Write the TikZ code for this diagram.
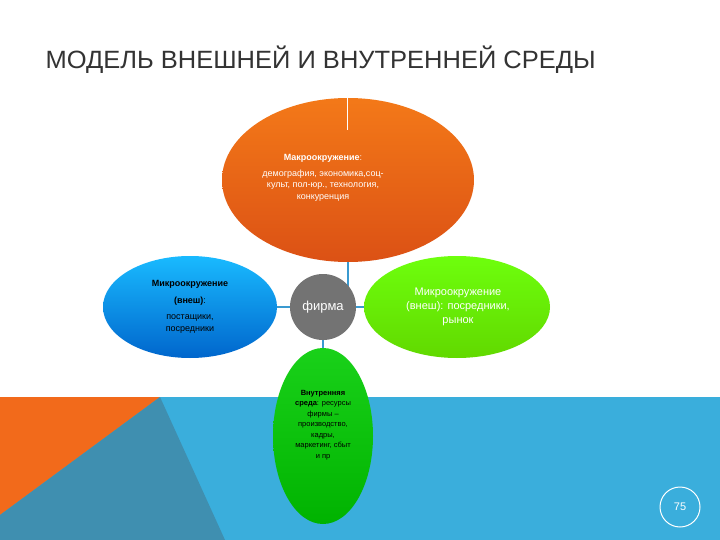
\documentclass[tikz,border=0pt]{standalone}
\usepackage{fontspec}
\setmainfont{Liberation Sans}
\usetikzlibrary{shapes.geometric}
\definecolor{bandblue}{HTML}{3AAEDC}
\definecolor{darkblue}{HTML}{3F8FB0}
\definecolor{orng}{HTML}{F26A1B}
\definecolor{conn}{HTML}{3A9AD0}
\begin{document}
\begin{tikzpicture}[x=1pt,y=-1pt,
  conline/.style={draw=conn,line width=2.5pt},
  txt/.style={font=\fontsize{9}{11.5}\selectfont,align=center}]
\useasboundingbox (0,0) rectangle (720,540);
\fill[white] (0,0) rectangle (720,540);
\fill[bandblue] (0,397) rectangle (720,540);
\fill[orng] (0,397) -- (160,397) -- (0,515) -- cycle;
\fill[darkblue] (0,515) -- (160,397) -- (225,540) -- (0,540) -- cycle;
\node[anchor=west,text=black!80,font=\fontsize{25}{28}\selectfont,xscale=1.02] (title) at (42,60) {МОДЕЛЬ ВНЕШНЕЙ И ВНУТРЕННЕЙ СРЕДЫ};
\coordinate (f) at (323,307);
\coordinate (tc) at (348,180);
\coordinate (lc) at (190,307);
\coordinate (rc) at (457,307);
\coordinate (bc) at (323,436);
\draw[conline] (tc) -- (tc|-f) -- (f);
\draw[conline] (lc) -- (rc);
\draw[conline] (f) -- (bc);
\node[ellipse,minimum width=252pt,minimum height=164pt,top color=orng!90!yellow,bottom color=orng!85!red!90!black,inner sep=0] (top) at (tc) {};
\draw[white,line width=1pt] (347,95) -- (347,130);
\node[txt,text=white] (toptext) at (323,178) {\textbf{Макроокружение}:\\[4pt]демография, экономика,соц-\\культ, пол-юр., технология,\\конкуренция};
\node[ellipse,minimum width=174pt,minimum height=102pt,top color=cyan!70!blue!90,bottom color=cyan!50!blue!80!black,inner sep=0] (left) at (lc) {};
\node[txt,text=black] (lefttext) at (190,307) {\textbf{Микроокружение}\\[5pt]\textbf{(внеш)}:\\[5pt]постащики,\\посредники};
\node[ellipse,minimum width=186pt,minimum height=102pt,top color=green!60!yellow!95!white,bottom color=green!55!yellow!85!black,inner sep=0] (right) at (rc) {};
\node[txt,text=white,font=\fontsize{11}{14}\selectfont] (righttext) at (458,307) {Микроокружение\\(внеш): посредники,\\рынок};
\node[circle,minimum size=66pt,fill=black!55,inner sep=0,text=white,font=\fontsize{13}{15}\selectfont] (firm) at (f) {фирма};
\node[ellipse,minimum width=100pt,minimum height=176pt,top color=green!80!black!90!white,bottom color=green!70!black,inner sep=0] (bot) at (bc) {};
\node[txt,text=black,font=\fontsize{7.5}{10.5}\selectfont] (bottext) at (323,425) {\textbf{Внутренняя}\\\textbf{среда}: ресурсы\\фирмы --\\производство,\\кадры,\\маркетинг, сбыт\\и пр};
\node[circle,draw=white,line width=1pt,minimum size=40pt,text=white,font=\fontsize{11}{13}\selectfont] (page) at (680,507) {75};
\end{tikzpicture}
\end{document}
